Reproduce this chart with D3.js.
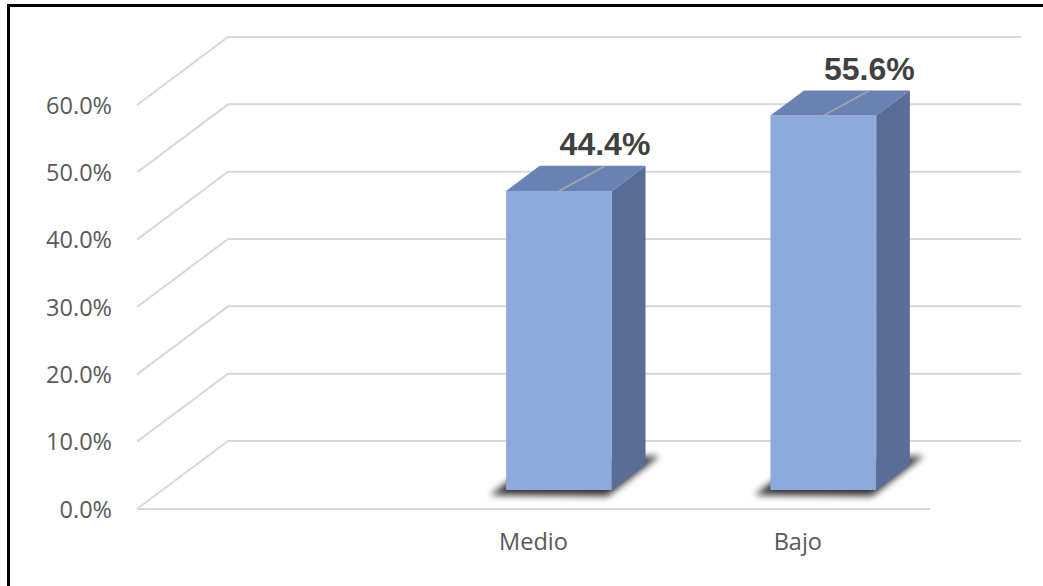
<!DOCTYPE html>
<html>
<head>
<meta charset="utf-8">
<script src="https://cdn.jsdelivr.net/npm/d3@7"></script>
<style>
  html, body { margin: 0; padding: 0; background: #fff; }
  svg { display: block; }
</style>
</head>
<body>
<svg id="chart" width="1043" height="586"></svg>
<script>
// ---- data ----
const categories = ["", "Medio", "Bajo"];
const values = [null, 0.444, 0.556];
const valueLabels = ["", "44.4%", "55.6%"];
const yTicks = [0, 0.1, 0.2, 0.3, 0.4, 0.5, 0.6];
const yTickLabels = ["0.0%", "10.0%", "20.0%", "30.0%", "40.0%", "50.0%", "60.0%"];

// ---- layout ----
const svg = d3.select("#chart");
const W = 1043, H = 586;
const depthDX = 91, depthDY = -68;     // full floor depth projection
const barD0 = 0.28, barD1 = 0.65;      // bar position in depth

const x = d3.scaleBand().domain(categories).range([137, 930]).paddingInner(0).paddingOuter(0);
const y = d3.scaleLinear().domain([0, 0.6]).range([509, 105]);
const barW = x.bandwidth() / 2.5;

function P(px, v, d) { return [px + d * depthDX, y(v) + d * depthDY]; }
const pts = a => a.map(p => p.join(",")).join(" ");

const defs = svg.append("defs");
const f = defs.append("filter").attr("id", "shadow").attr("x", "-30%").attr("y", "-80%").attr("width", "160%").attr("height", "260%");
f.append("feGaussianBlur").attr("stdDeviation", 3.5);

// frame
svg.append("path").attr("d", `M8.5,${H + 5} L8.5,5.5 L${W + 5},5.5`)
  .attr("fill", "none").attr("stroke", "#000").attr("stroke-width", 3);

// gridlines
const grid = svg.append("g").attr("stroke", "#d9d9d9").attr("stroke-width", 2).attr("fill", "none");
const x0 = x.range()[0], x1 = x.range()[1];
yTicks.forEach(t => {
  const a = P(x0, t, 0), b = P(x0, t, 1), c = P(x1, t, 1);
  grid.append("polyline").attr("points", pts([a, b, c]));
});
// floor front edge
grid.append("line").attr("x1", P(x0, 0, 0)[0]).attr("y1", y(0)).attr("x2", P(x1, 0, 0)[0]).attr("y2", y(0));

// tick labels
svg.append("g").selectAll("text").data(yTicks).join("text")
  .attr("x", 112).attr("y", d => y(d) + 8.5)
  .attr("text-anchor", "end")
  .attr("font-family", "'Open Sans', sans-serif").attr("font-size", 23.5)
  .attr("fill", "#595959")
  .text((d, i) => yTickLabels[i]);

// bars
const data = categories.map((c, i) => ({ c, v: values[i], lab: valueLabels[i] })).filter(d => d.v != null);
const bars = svg.append("g");

data.forEach(d => {
  const L = x(d.c) + x.bandwidth() / 2 - barW / 2, R = L + barW;
  const fbl = P(L, 0, barD0), fbr = P(R, 0, barD0), bbr = P(R, 0, barD1), bbl = P(L, 0, barD1);
  const sh = [
    [fbl[0] - 16, fbl[1] + 5],
    [fbr[0] - 4, fbr[1] + 6],
    [bbr[0] + 14, bbr[1] - 9],
    [bbl[0] - 6, bbl[1] - 2]
  ];
  bars.append("polygon")
    .attr("points", pts(sh))
    .attr("fill", "#000").attr("opacity", 0.8).attr("filter", "url(#shadow)");
});

data.forEach(d => {
  const L = x(d.c) + x.bandwidth() / 2 - barW / 2, R = L + barW;
  const ftl = P(L, d.v, barD0), ftr = P(R, d.v, barD0), btr = P(R, d.v, barD1), btl = P(L, d.v, barD1);
  const fbl = P(L, 0, barD0), fbr = P(R, 0, barD0), bbr = P(R, 0, barD1);
  // side
  bars.append("polygon").attr("points", pts([fbr, bbr, btr, ftr])).attr("fill", "#5a6d96");
  // front
  bars.append("polygon").attr("points", pts([fbl, fbr, ftr, ftl])).attr("fill", "#8eaadc");
  // top
  bars.append("polygon").attr("points", pts([ftl, ftr, btr, btl])).attr("fill", "#6a82b3");

  // data label with leader line
  const cx = (L + R) / 2 + barD0 * depthDX;
  const topY = ftl[1];
  const lx = cx + 46, ly = topY - 36;
  bars.append("line").attr("x1", cx).attr("y1", topY).attr("x2", lx).attr("y2", ly + 11)
    .attr("stroke", "#a6a6a6").attr("stroke-width", 1.5);
  bars.append("text").attr("x", lx).attr("y", ly)
    .attr("text-anchor", "middle")
    .attr("font-family", "'Liberation Sans', Arial, sans-serif").attr("font-weight", "bold")
    .attr("font-size", 32).attr("fill", "#404040")
    .text(d.lab);
});

// category labels
svg.append("g").selectAll("text").data(categories).join("text")
  .attr("x", d => x(d) + x.bandwidth() / 2)
  .attr("y", 549.5)
  .attr("text-anchor", "middle")
  .attr("font-family", "'Open Sans', sans-serif").attr("font-size", 23.5)
  .attr("fill", "#595959")
  .text(d => d);
</script>
</body>
</html>
